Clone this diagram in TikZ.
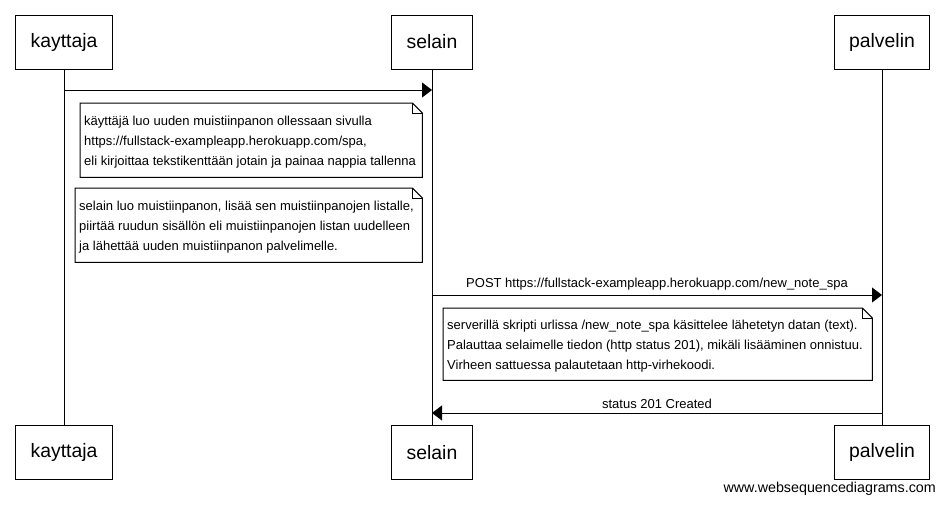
\documentclass[tikz,border=0pt]{standalone}
\usepackage{fontspec}
\setmainfont{Liberation Sans}
\usetikzlibrary{arrows.meta}
\begin{document}
\begin{tikzpicture}[x=1pt,y=-1pt,
  pen/.style={line width=1pt, draw=black},
  actor/.style={pen, minimum height=54pt, inner xsep=15pt, inner ysep=0pt,
    font=\fontsize{19.4}{22}\selectfont},
  lifeline/.style={pen},
  msg/.style={pen, -{Triangle[length=10pt,width=15pt]}},
  msglabel/.style={font=\fontsize{13}{15}\selectfont, inner sep=0pt},
  notebox/.style={anchor=north west, inner sep=0pt},
  notetext/.style={anchor=west, align=left, inner sep=0pt,
    font=\fontsize{13}{20}\selectfont}
]
\useasboundingbox[fill=white] (0,0) rectangle (943,504);

% participants, top row
\node[actor] (k1) at (64,42) {kayttaja};
\node[actor] (s1) at (432,42) {selain};
\node[actor] (p1) at (882,42) {palvelin};
% participants, bottom row
\node[actor] (k2) at (64,452.5) {kayttaja};
\node[actor] (s2) at (432,452.5) {selain};
\node[actor] (p2) at (882,452.5) {palvelin};

% lifelines
\draw[lifeline] (k1.south) -- (k2.north);
\draw[lifeline] (s1.south) -- (s2.north);
\draw[lifeline] (p1.south) -- (p2.north);

% message end points on the lifelines
\coordinate (m1a) at (k1.south |- 0,90);
\coordinate (m1b) at (s1.south |- 0,90);
\coordinate (m2a) at (s1.south |- 0,295);
\coordinate (m2b) at (p1.south |- 0,295);
\coordinate (m3a) at (p1.south |- 0,413);
\coordinate (m3b) at (s1.south |- 0,413);

% messages
\draw[msg] (m1a) -- (m1b);
\draw[msg] (m2a) -- node[msglabel, above=4pt] {POST https://fullstack-exampleapp.herokuapp.com/new\_note\_spa} (m2b);
\draw[msg] (m3a) -- node[msglabel, above=4pt] {status 201 Created} (m3b);

% note frames
\node[notebox, minimum width=342pt, minimum height=74pt] (n1) at (80,103) {};
\node[notebox, minimum width=347pt, minimum height=74pt] (n2) at (75,188) {};
\node[notebox, minimum width=429pt, minimum height=72pt] (n3) at (443,308) {};

% note texts
\node[notetext] (t1) at ([xshift=4pt,yshift=-2pt]n1.west)
  {käyttäjä luo uuden muistiinpanon ollessaan sivulla\\
   https://fullstack-exampleapp.herokuapp.com/spa,\\
   eli kirjoittaa tekstikenttään jotain ja painaa nappia tallenna};
\node[notetext] (t2) at ([xshift=4pt,yshift=-2pt]n2.west)
  {selain luo muistiinpanon, lisää sen muistiinpanojen listalle,\\
   piirtää ruudun sisällön eli muistiinpanojen listan uudelleen\\
   ja lähettää uuden muistiinpanon palvelimelle.};
\node[notetext] (t3) at ([xshift=4pt,yshift=-2pt]n3.west)
  {serverillä skripti urlissa /new\_note\_spa käsittelee lähetetyn datan (text).\\
   Palauttaa selaimelle tiedon (http status 201), mikäli lisääminen onnistuu.\\
   Virheen sattuessa palautetaan http-virhekoodi.};

% note outlines with folded corner
\foreach \n in {n1,n2,n3}{
  \draw[pen] (\n.north west) -- ([xshift=-10pt]\n.north east)
    -- ([yshift=-10pt]\n.north east) -- (\n.south east) -- (\n.south west) -- cycle;
  \draw[pen] ([xshift=-10pt]\n.north east) -- ([xshift=-10pt,yshift=-10pt]\n.north east)
    -- ([yshift=-10pt]\n.north east);
}

% footer
\node[font=\fontsize{14.3}{16}\selectfont, anchor=east, inner sep=0pt] (web) at (936,489)
  {www.websequencediagrams.com};
\end{tikzpicture}
\end{document}
